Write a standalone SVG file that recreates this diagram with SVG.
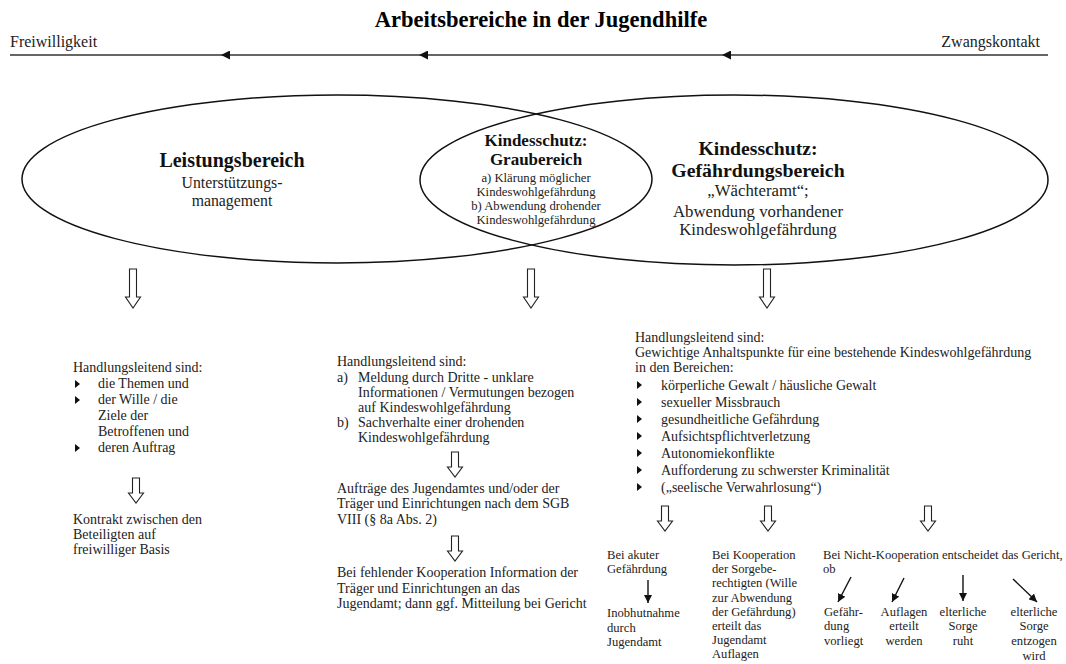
<svg xmlns="http://www.w3.org/2000/svg" width="1066" height="664" viewBox="0 0 1066 664" font-family="'Liberation Serif', 'DejaVu Serif', serif">
<style>
text{font-family:'Liberation Serif','DejaVu Serif',serif;fill:#222}
.title{font-size:22.5px;font-weight:bold;fill:#000}
.end{font-size:16px}
.hb{font-weight:bold;fill:#111}
.t{font-size:14px}
.s{font-size:12.6px}
.c{text-anchor:middle}
.ell{fill:none;stroke:#111;stroke-width:1.5}
.axis{stroke:#333;stroke-width:1.6;fill:none}
.hollow{fill:#fff;stroke:#222;stroke-width:1.1}
.thin{stroke:#111;stroke-width:1.4;fill:none}
</style>
<defs>
<marker id="ah" viewBox="0 0 10 10" refX="10" refY="5" markerWidth="9" markerHeight="9" markerUnits="userSpaceOnUse" orient="auto">
<path d="M0,0 L10,5 L0,10 Z" fill="#111"/>
</marker>
<marker id="sh" viewBox="0 0 10 10" refX="10" refY="5" markerWidth="8" markerHeight="8" markerUnits="userSpaceOnUse" orient="auto">
<path d="M0,0 L10,5 L0,10 Z" fill="#111"/>
</marker>
<path id="bigArrow" class="hollow" d="M-3.5,0 H3.5 V28 H7.5 L0,39 L-7.5,28 H-3.5 Z"/>
<path id="smallArrow" class="hollow" d="M-3.5,0 H3.5 V15 H7.5 L0,25 L-7.5,15 H-3.5 Z"/>
<path id="bullet" d="M0,-4 L5,0 L0,4 Z" fill="#111"/>
</defs>

<text class="title c" x="541" y="27">Arbeitsbereiche in der Jugendhilfe</text>
<text class="end" x="10" y="47">Freiwilligkeit</text>
<text class="end" x="1040" y="47" text-anchor="end">Zwangskontakt</text>

<g id="connectors">
<line class="axis" x1="1048" y1="55" x2="722" y2="55" marker-end="url(#ah)"/>
<line class="axis" x1="722" y1="55" x2="419" y2="55" marker-end="url(#ah)"/>
<line class="axis" x1="419" y1="55" x2="221" y2="55" marker-end="url(#ah)"/>
<line class="axis" x1="221" y1="55" x2="10" y2="55"/>
<use href="#bigArrow" x="133" y="269"/>
<use href="#bigArrow" x="531" y="269"/>
<use href="#bigArrow" x="767" y="269"/>
<use href="#smallArrow" x="136" y="478"/>
<use href="#smallArrow" x="455" y="452"/>
<use href="#smallArrow" x="455" y="536"/>
<use href="#smallArrow" x="665" y="506"/>
<use href="#smallArrow" x="768" y="506"/>
<use href="#smallArrow" x="928" y="506"/>
<line class="thin" x1="648" y1="580" x2="648" y2="603" marker-end="url(#sh)"/>
<line class="thin" x1="851" y1="577" x2="838" y2="602" marker-end="url(#sh)"/>
<line class="thin" x1="904" y1="578" x2="892" y2="602" marker-end="url(#sh)"/>
<line class="thin" x1="963" y1="575" x2="963" y2="601" marker-end="url(#sh)"/>
<line class="thin" x1="1013" y1="579" x2="1037" y2="602" marker-end="url(#sh)"/>
</g>

<g id="leistungsbereich">
<ellipse class="ell" cx="337" cy="179" rx="315" ry="84"/>
<text class="hb c" x="232" y="167" font-size="20">Leistungsbereich</text>
<text class="c" x="232" y="188" font-size="15.8">Unterstützungs-</text>
<text class="c" x="232" y="206" font-size="15.8">management</text>
</g>

<g id="gefaehrdungsbereich">
<ellipse class="ell" cx="734" cy="180" rx="314" ry="85"/>
<text class="hb c" x="758" y="155" font-size="19.7">Kindesschutz:</text>
<text class="hb c" x="758" y="177" font-size="19.8">Gefährdungsbereich</text>
<text class="c" x="758" y="196" font-size="16.8">„Wächteramt“;</text>
<text class="c" x="758" y="217" font-size="16.8">Abwendung vorhandener</text>
<text class="c" x="758" y="235" font-size="16.8">Kindeswohlgefährdung</text>
</g>

<g id="graubereich">
<text class="hb c" x="536" y="146" font-size="17">Kindesschutz:</text>
<text class="hb c" x="536" y="165" font-size="17">Graubereich</text>
<text class="c" x="536" y="182" font-size="12.7">a) Klärung möglicher</text>
<text class="c" x="536" y="196" font-size="12.7">Kindeswohlgefährdung</text>
<text class="c" x="536" y="210" font-size="12.7">b) Abwendung drohender</text>
<text class="c" x="536" y="224" font-size="12.7">Kindeswohlgefährdung</text>
</g>

<g id="block-left">
<text class="t" x="73" y="372">Handlungsleitend sind:</text>
<use href="#bullet" x="75" y="384"/>
<text class="t" x="98" y="388">die Themen und</text>
<use href="#bullet" x="75" y="400"/>
<text class="t" x="98" y="404">der Wille / die</text>
<text class="t" x="98" y="420">Ziele der</text>
<text class="t" x="98" y="436">Betroffenen und</text>
<use href="#bullet" x="75" y="448"/>
<text class="t" x="98" y="452">deren Auftrag</text>
<text class="t" x="73" y="524">Kontrakt zwischen den</text>
<text class="t" x="73" y="539">Beteiligten auf</text>
<text class="t" x="73" y="554">freiwilliger Basis</text>
</g>

<g id="block-middle">
<text class="t" x="337" y="366">Handlungsleitend sind:</text>
<text class="t" x="337" y="382">a)</text>
<text class="t" x="358" y="382">Meldung durch Dritte - unklare</text>
<text class="t" x="358" y="397">Informationen / Vermutungen bezogen</text>
<text class="t" x="358" y="412">auf Kindeswohlgefährdung</text>
<text class="t" x="337" y="427">b)</text>
<text class="t" x="358" y="427">Sachverhalte einer drohenden</text>
<text class="t" x="358" y="442">Kindeswohlgefährdung</text>
<text class="t" x="337" y="493">Aufträge des Jugendamtes und/oder der</text>
<text class="t" x="337" y="508">Träger und Einrichtungen nach dem SGB</text>
<text class="t" x="337" y="524">VIII (§ 8a Abs. 2)</text>
<text class="t" x="337" y="577">Bei fehlender Kooperation Information der</text>
<text class="t" x="337" y="593">Träger und Einrichtungen an das</text>
<text class="t" x="337" y="608">Jugendamt; dann ggf. Mitteilung bei Gericht</text>
</g>

<g id="block-right">
<text class="t" x="635" y="342">Handlungsleitend sind:</text>
<text class="t" x="635" y="357">Gewichtige Anhaltspunkte für eine bestehende Kindeswohlgefährdung</text>
<text class="t" x="635" y="372">in den Bereichen:</text>
<use href="#bullet" x="637" y="385"/>
<text class="t" x="661" y="390">körperliche Gewalt / häusliche Gewalt</text>
<use href="#bullet" x="637" y="402"/>
<text class="t" x="661" y="407">sexueller Missbrauch</text>
<use href="#bullet" x="637" y="419"/>
<text class="t" x="661" y="424">gesundheitliche Gefährdung</text>
<use href="#bullet" x="637" y="436"/>
<text class="t" x="661" y="441">Aufsichtspflichtverletzung</text>
<use href="#bullet" x="637" y="453"/>
<text class="t" x="661" y="458">Autonomiekonflikte</text>
<use href="#bullet" x="637" y="470"/>
<text class="t" x="661" y="475">Aufforderung zu schwerster Kriminalität</text>
<use href="#bullet" x="637" y="487"/>
<text class="t" x="661" y="492">(„seelische Verwahrlosung“)</text>
</g>

<g id="akut">
<text class="s" x="607" y="559">Bei akuter</text>
<text class="s" x="607" y="573">Gefährdung</text>
<text class="s" x="607" y="617">Inobhutnahme</text>
<text class="s" x="607" y="632">durch</text>
<text class="s" x="607" y="646">Jugendamt</text>
</g>

<g id="kooperation">
<text class="s" x="712" y="559">Bei Kooperation</text>
<text class="s" x="712" y="573">der Sorgebe-</text>
<text class="s" x="712" y="587">rechtigten (Wille</text>
<text class="s" x="712" y="602">zur Abwendung</text>
<text class="s" x="712" y="616">der Gefährdung)</text>
<text class="s" x="712" y="630">erteilt das</text>
<text class="s" x="712" y="644">Jugendamt</text>
<text class="s" x="712" y="658">Auflagen</text>
</g>

<g id="nicht-kooperation">
<text class="s" x="823" y="559">Bei Nicht-Kooperation entscheidet das Gericht,</text>
<text class="s" x="823" y="573">ob</text>
</g>

<g id="gefaehrdung-vorliegt">
<text class="s" x="824" y="616">Gefähr-</text>
<text class="s" x="824" y="630">dung</text>
<text class="s" x="824" y="645">vorliegt</text>
</g>
<g id="auflagen">
<text class="s c" x="904" y="616">Auflagen</text>
<text class="s c" x="904" y="630">erteilt</text>
<text class="s c" x="904" y="645">werden</text>
</g>
<g id="sorge-ruht">
<text class="s c" x="963" y="616">elterliche</text>
<text class="s c" x="963" y="630">Sorge</text>
<text class="s c" x="963" y="645">ruht</text>
</g>
<g id="sorge-entzogen">
<text class="s c" x="1034" y="616">elterliche</text>
<text class="s c" x="1034" y="630">Sorge</text>
<text class="s c" x="1034" y="645">entzogen</text>
<text class="s c" x="1034" y="660">wird</text>
</g>
</svg>
